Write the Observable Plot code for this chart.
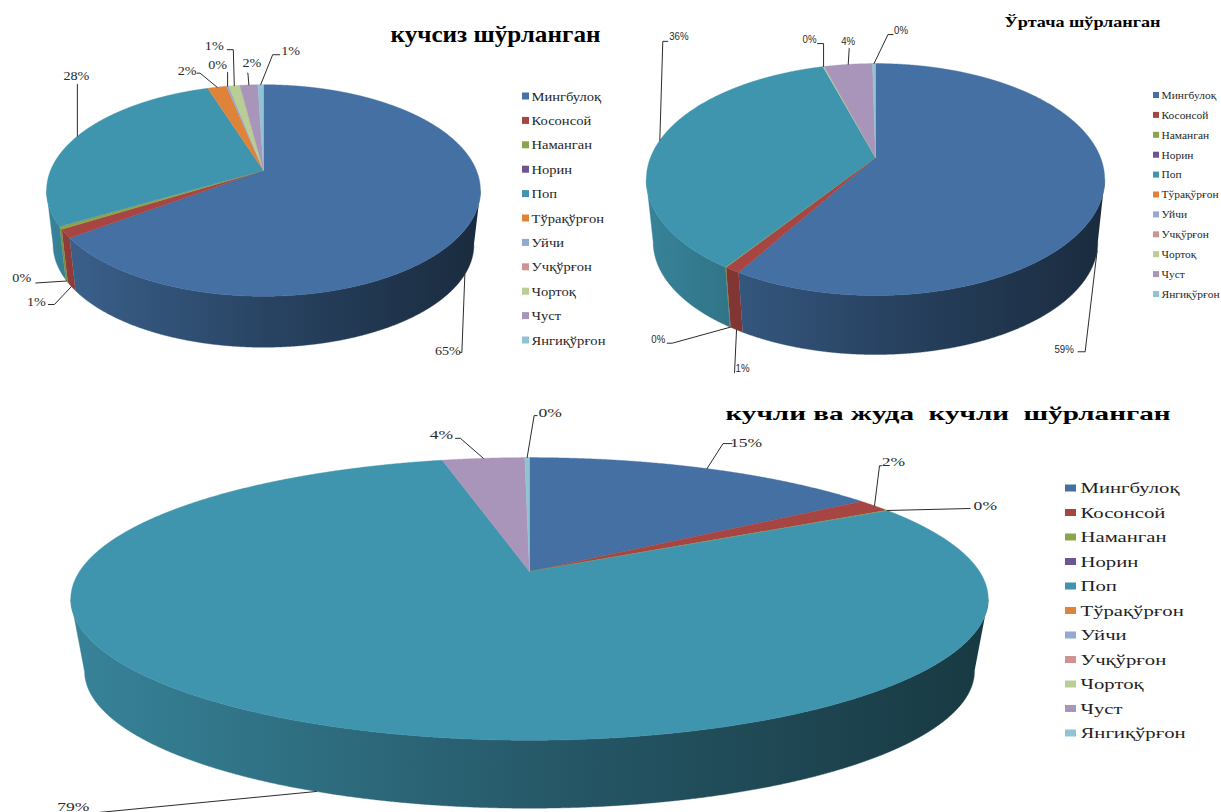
<!DOCTYPE html>
<html>
<head>
<meta charset="utf-8">
<script src="https://cdn.jsdelivr.net/npm/d3@7"></script>
<script src="https://cdn.jsdelivr.net/npm/@observablehq/plot@0.6"></script>
<style>
html,body{margin:0;padding:0;background:#fff;width:1221px;height:812px;overflow:hidden}
#page{position:relative;width:1221px;height:812px}
#page>svg{position:absolute;overflow:visible}
</style>
</head>
<body>
<div id="page"></div>
<script>
// ---- data ----
const categories = ["Мингбулоқ","Косонсой","Наманган","Норин","Поп","Тўрақўрғон","Уйчи","Учқўрғон","Чортоқ","Чуст","Янгиқўрғон"];
const colors = ["#4470a3","#a74543","#8aa54b","#6f5590","#3f95ae","#e0833a","#93a9cf","#d09392","#b9cd96","#a895b9","#92c3d4"];
const weakValues   = [65.0,1.3,0.4,0,28.3,1.7,0.2,0,1.0,1.6,0.5];
const mediumValues = [58.5,0.95,0.05,0,36.05,0,0,0,0.1,4.1,0.25];
const strongValues = [15.3,1.5,0.05,0,79.45,0,0,0,0,3.5,0.2];
const weakTitle = "кучсиз шўрланган";
const mediumTitle = "Ўртача шўрланган";
const strongTitle = "кучли ва жуда  кучли  шўрланган";

// ---- label placement: offsets from the slice rim [elbow dx, elbow dy, tail dx, text dx, text dy] ----
const weakLabels = {0:[-3,78,-2,-17,76],1:[-17,18,-6,-35,15],2:[-31,2,0,-45,-3],4:[0,-52,0,-1,-61],5:[-17,-14,-3,-30,-16],6:[0,-14,0,-10,-21],8:[-1,-36,-6,-20,-40],9:[-1,-12,0,3,-22],10:[12,-30,7,30,-34]};
const mediumLabels = {0:[-12,101,-7,-33,99],1:[-2,43,0,6,39],2:[-58,16,-5,-72,12],4:[3,-99,5,19,-104],8:[0,-23,-6,-14,-27],9:[1,-16,0,0,-23],10:[14,-29,5,27,-33]};
const strongLabels = {0:[16,-25,9,39,-26],1:[5,-40,2,19,-44],2:[83,-2,0,98,-5],4:[-223,21.5,0,-243,15],9:[-23,-20,-5,-42,-23],10:[7,-42,3,23,-45]};

// ---- layout ----
const serif = "'Liberation Serif',serif";
const charts = [
 {id:"weak",values:weakValues,labels:weakLabels,title:weakTitle,
  box:[0,0,622,380],cx:263,cy:170,a:213,b:102,k:.189,d:51,
  titleX:390,titleY:34,titleW:210,titleSize:23,labelSize:13.5,labelStretch:1.05,labelFont:serif,
  legX:522,legY:96,legStep:24.4,swW:7,swH:7,legTextX:531,legSize:13,legStretch:1.12},
 {id:"medium",values:mediumValues,labels:mediumLabels,title:mediumTitle,
  box:[622,0,599,385],cx:875,cy:157,a:225,b:111.8,k:.19,d:59,
  titleX:1004,titleY:22,titleW:156,titleSize:15.5,labelSize:10.5,labelStretch:.92,labelFont:"'Liberation Sans',sans-serif",
  legX:1153,legY:95,legStep:19.9,swW:6,swH:6,legTextX:1161,legSize:10.5,legStretch:1.09},
 {id:"strong",values:strongValues,labels:strongLabels,title:strongTitle,
  box:[0,395,1221,417],cx:529,cy:571,a:450,b:136,k:.194,d:68,
  titleX:725,titleY:413,titleW:445,titleSize:19,labelSize:13,labelStretch:1.35,labelFont:serif,
  legX:1065,legY:488,legStep:24.5,swW:11,swH:7,legTextX:1080,legSize:15,legStretch:1.38}
];
const bottomScale = .97; // the lower rim of each pie is slightly narrower than the upper rim

function shade(color,f){const c=d3.rgb(color);return d3.rgb(c.r*f,c.g*f,c.b*f).formatHex();}

function piePlot(c){
  const [L,T,W,H]=c.box;
  const rim=p=>{const t=p/100*2*Math.PI,u=Math.sin(t),v=-Math.cos(t),q=1-c.k*v;
    return {x:c.cx+c.a*u/q,y:c.cy+c.b*v/q};};
  const midY=c.cy+c.b*c.k/(1-c.k*c.k);
  const halfW=c.a/Math.sqrt(1-c.k*c.k);
  const halfH=c.b/(1-c.k*c.k);
  const lowerMidY=midY+c.d+halfH*(1-bottomScale);
  const lower=p=>({x:c.cx+(p.x-c.cx)*bottomScale,y:lowerMidY+(p.y-midY)*bottomScale});
  const ends=d3.cumsum(c.values);
  const slices=c.values.map((v,i)=>({i,v,p0:ends[i]-v,p1:ends[i]})).filter(s=>s.v>0);
  const arc=s=>{const n=Math.max(2,Math.ceil((s.p1-s.p0)/0.05));return d3.range(n+1).map(j=>rim(s.p0+(s.p1-s.p0)*j/n));};

  const marks=[];
  // side gradients, spanning the whole pie width through the x scale
  marks.push((index,{x})=>{
    const defs=d3.create("svg:defs");
    colors.forEach((col,i)=>{
      const g=defs.append("linearGradient").attr("id",`${c.id}-g${i}`).attr("gradientUnits","userSpaceOnUse")
        .attr("x1",x(c.cx-halfW)).attr("x2",x(c.cx+halfW)).attr("y1",0).attr("y2",0);
      g.append("stop").attr("offset",0).attr("stop-color",shade(col,.88));
      g.append("stop").attr("offset",.55).attr("stop-color",shade(col,.58));
      g.append("stop").attr("offset",1).attr("stop-color",shade(col,.38));
    });
    return defs.node();
  });
  // side walls
  for(const s of slices){
    const front=arc(s).filter(p=>p.y>=midY);
    if(front.length<2) continue;
    const poly=front.concat(front.slice().reverse().map(lower));
    marks.push(Plot.line(poly,{x:"x",y:"y",fill:`url(#${c.id}-g${s.i})`,stroke:`url(#${c.id}-g${s.i})`,strokeWidth:.4}));
  }
  // top faces
  for(const s of slices){
    const poly=[{x:c.cx,y:c.cy},...arc(s),{x:c.cx,y:c.cy}];
    marks.push(Plot.line(poly,{x:"x",y:"y",fill:colors[s.i],stroke:colors[s.i],strokeWidth:.4}));
  }
  // leaders and value labels
  const labelRows=[];
  for(const key of Object.keys(c.labels)){
    const i=+key,s=slices.find(d=>d.i===i),[ex,ey,tail,tx,ty]=c.labels[key];
    const m=rim((s.p0+s.p1)/2);
    const a=m.y>=midY?lower(m):m;
    const pts=[a,{x:a.x+ex,y:a.y+ey},{x:a.x+ex+tail,y:a.y+ey}];
    marks.push(Plot.line(pts,{x:"x",y:"y",stroke:"#2b2b2b",strokeWidth:1,curve:"linear"}));
    labelRows.push({x:a.x+tx,y:a.y+ty,text:Math.round(s.v)+"%"});
  }
  marks.push(Plot.text(labelRows,{x:"x",y:"y",text:"text",fontSize:c.labelSize,fontFamily:c.labelFont,fill:"#2a2a2a",textAnchor:"middle",className:"value-label"}));
  // legend
  const legend=categories.map((name,i)=>({name,col:colors[i],y:c.legY+i*c.legStep}));
  marks.push(Plot.rect(legend,{x1:()=>c.legX,x2:()=>c.legX+c.swW,y1:d=>d.y-c.swH/2,y2:d=>d.y+c.swH/2,fill:"col"}));
  marks.push(Plot.text(legend,{x:()=>c.legTextX,y:"y",text:"name",textAnchor:"start",fontSize:c.legSize,fill:"#1f1f1f",className:"legend-label"}));
  // title
  marks.push(Plot.text([c.title],{x:()=>c.titleX,y:()=>c.titleY,text:d=>d,textAnchor:"start",fontSize:c.titleSize,fontWeight:"bold",fill:"#000",className:"chart-title"}));

  const svg=Plot.plot({
    width:W,height:H,margin:0,
    x:{domain:[L,L+W],range:[0,W],axis:null},
    y:{domain:[T,T+H],range:[0,H],axis:null},
    color:{type:"identity"},
    style:{fontFamily:serif,background:"transparent"},
    marks
  });
  svg.style.left=L+"px"; svg.style.top=T+"px";
  document.getElementById("page").appendChild(svg);
  const stretch=(sel,f)=>svg.querySelectorAll(sel).forEach(t=>{
    t.setAttribute("textLength",f(t)); t.setAttribute("lengthAdjust","spacingAndGlyphs");});
  stretch(".legend-label text",t=>t.getComputedTextLength()*c.legStretch);
  stretch(".value-label text",t=>t.getComputedTextLength()*c.labelStretch);
  stretch(".chart-title text",()=>c.titleW);
}
charts.forEach(piePlot);
</script>
</body>
</html>
